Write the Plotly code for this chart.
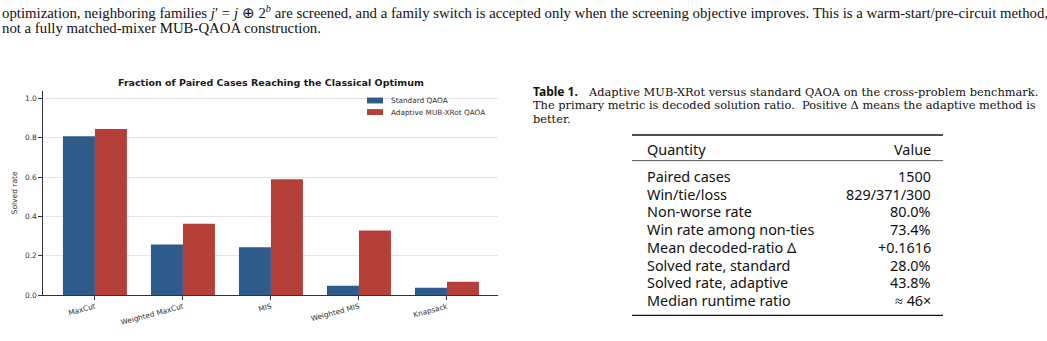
import plotly.graph_objects as go

W, H = 1047, 341

# ---------------- data ----------------
problems = ["MaxCut", "Weighted MaxCut", "MIS", "Weighted MIS", "Knapsack"]
standard_rate = [0.808, 0.258, 0.243, 0.048, 0.038]
adaptive_rate = [0.845, 0.363, 0.589, 0.328, 0.068]
series_names = ["Standard QAOA", "Adaptive MUB-XRot QAOA"]
y_ticks = [0.0, 0.2, 0.4, 0.6, 0.8, 1.0]

table_quantity = ["Paired cases", "Win/tie/loss", "Non-worse rate", "Win rate among non-ties",
                  "Mean decoded-ratio Δ", "Solved rate, standard", "Solved rate, adaptive",
                  "Median runtime ratio"]
table_value = ["1500", "829/371/300", "80.0%", "73.4%", "+0.1616", "28.0%", "43.8%", "≈ 46×"]

para_lines = [
    "optimization, neighboring families <i>j</i>′ = <i>j</i> ⊕ 2<sup><i>b</i></sup> are screened, and a family switch is accepted only when the screening objective improves. This is a warm-start/pre-circuit method,",
    "not a fully matched-mixer MUB-QAOA construction.",
]
caption_title = "<b>Table 1.</b>"
caption_lines = [
    "Adaptive MUB-XRot versus standard QAOA on the cross-problem benchmark.",
    "The primary metric is decoded solution ratio.  Positive Δ means the adaptive method is",
    "better.",
]

BLUE = "#2e5b8a"
RED = "#b5403a"


def px(x):
    return x / W


def py(y):
    return 1 - y / H


fig = go.Figure()
fig.add_trace(go.Bar(x=problems, y=standard_rate, name=series_names[0], marker_color=BLUE,
                     marker_line_width=0, showlegend=False))
fig.add_trace(go.Bar(x=problems, y=adaptive_rate, name=series_names[1], marker_color=RED,
                     marker_line_width=0, showlegend=False))

fig.update_layout(
    width=W, height=H,
    margin=dict(l=0, r=0, t=0, b=0),
    paper_bgcolor="white", plot_bgcolor="white",
    barmode="group", bargap=0.273, bargroupgap=0,
    font=dict(family="DejaVu Sans", color="#333333"),
    xaxis=dict(domain=[px(43), px(498)], range=[-0.59, 4.58], showline=True, linecolor="#333333",
               linewidth=1.25, ticks="outside", ticklen=3.5, tickcolor="#333333", tickwidth=1,
               tickangle=-15, tickfont=dict(size=7.3, color="#333333"), showgrid=False,
               anchor="y", layer="above traces"),
    yaxis=dict(domain=[py(299.5), py(92)], range=[0, 1.04], showline=True, linecolor="#333333",
               linewidth=1.25, ticks="outside", ticklen=3.5, tickcolor="#333333", tickwidth=1,
               tickvals=y_ticks, ticktext=[f"{v:.1f}" for v in y_ticks],
               tickfont=dict(size=7.5, color="#333333"), showgrid=True,
               gridcolor="rgba(205,205,222,0.55)", gridwidth=1, zeroline=False,
               title=dict(text="Solved rate", font=dict(size=7.5, color="#333333"), standoff=6),
               layer="above traces"),
)

# title
fig.add_annotation(text="<b>Fraction of Paired Cases Reaching the Classical Optimum</b>",
                   x=px(270.5), y=py(84), xref="paper", yref="paper", showarrow=False,
                   xanchor="center", yanchor="middle", font=dict(size=9.5, color="#1a1a1a"))

# manual legend
leg_rows = [(102, BLUE), (113.7, RED)]
for (yc, col), name in zip(leg_rows, series_names):
    fig.add_shape(type="rect", xref="paper", yref="paper", x0=px(367), x1=px(383),
                  y0=py(yc - 3), y1=py(yc + 3), fillcolor=col, line_width=0)
    fig.add_annotation(text=name, x=px(389), y=py(yc), xref="paper", yref="paper",
                       showarrow=False, xanchor="left", yanchor="middle",
                       font=dict(size=7.3, color="#333333"))

# paragraph text
for i, line in enumerate(para_lines):
    fig.add_annotation(text=line, x=0, y=py(12 + 16 * i), xref="paper", yref="paper",
                       showarrow=False, xanchor="left", yanchor="middle",
                       font=dict(family="Liberation Serif", size=14.8, color="#111111"))

# caption
fig.add_annotation(text=caption_title, x=px(531), y=py(93), xref="paper", yref="paper",
                   showarrow=False, xanchor="left", yanchor="middle",
                   font=dict(family="Noto Sans", size=12, color="#111111"))
CF = dict(family="DejaVu Serif", size=11.4, color="#111111")
fig.add_annotation(text=caption_lines[0], x=px(586), y=py(93), xref="paper", yref="paper",
                   showarrow=False, xanchor="left", yanchor="middle", font=CF)
for i, line in enumerate(caption_lines[1:], start=1):
    fig.add_annotation(text=line, x=px(531), y=py(93 + 14 * i), xref="paper", yref="paper",
                       showarrow=False, xanchor="left", yanchor="middle", font=CF)

# table rules
for yv, lw in [(137, 1.3), (163, 0.7), (320, 1.3)]:
    fig.add_shape(type="line", xref="paper", yref="paper", x0=px(632), x1=px(943),
                  y0=py(yv), y1=py(yv), line=dict(color="#111111", width=lw))

TF = dict(family="Noto Sans", size=14.4, color="#111111")
fig.add_annotation(text="Quantity", x=px(645), y=py(152), xref="paper", yref="paper",
                   showarrow=False, xanchor="left", yanchor="middle", font=TF)
fig.add_annotation(text="Value", x=px(933), y=py(152), xref="paper", yref="paper",
                   showarrow=False, xanchor="right", yanchor="middle", font=TF)
for i, (q, v) in enumerate(zip(table_quantity, table_value)):
    yc = 179 + 18 * i
    fig.add_annotation(text=q, x=px(645), y=py(yc), xref="paper", yref="paper",
                       showarrow=False, xanchor="left", yanchor="middle", font=TF)
    fig.add_annotation(text=v, x=px(933), y=py(yc), xref="paper", yref="paper",
                       showarrow=False, xanchor="right", yanchor="middle", font=TF)

fig.write_html("out.html")
